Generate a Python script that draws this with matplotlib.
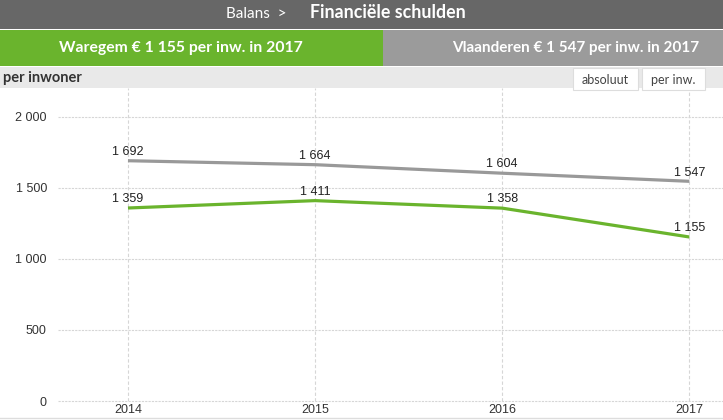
import matplotlib.pyplot as plt
from matplotlib.patches import Rectangle

years = [2014, 2015, 2016, 2017]
vlaanderen = [1692, 1664, 1604, 1547]
waregem = [1359, 1411, 1358, 1155]
yticks = [0, 500, 1000, 1500, 2000]
ytick_labels = ['0', '500', '1 000', '1 500', '2 000']

green = '#6ab42d'
grey = '#999999'

W, H = 723, 420
fig = plt.figure(figsize=(W / 100, H / 100), dpi=100)
plt.rcParams['font.family'] = ['Liberation Sans', 'DejaVu Sans']


def px(x0, y0, x1, y1):
    # pixel box -> figure fraction rect
    return (x0 / W, 1 - y1 / H, (x1 - x0) / W, (y1 - y0) / H)


# header bands
for (x0, y0, x1, y1), c in [((0, 0, 723, 29), '#676767'),
                            ((0, 30, 383, 66), green),
                            ((383, 30, 723, 66), '#9b9b9b'),
                            ((0, 67, 723, 88), '#e9e9e9')]:
    r = px(x0, y0, x1, y1)
    fig.add_artist(Rectangle((r[0], r[1]), r[2], r[3], transform=fig.transFigure,
                             color=c, lw=0))

hfont = ['Lato', 'DejaVu Sans']
fig.text(287 / W, 1 - 14 / H, 'Balans  >', ha='right', va='center', color='white',
         fontsize=11, family=hfont)
fig.text(310 / W, 1 - 13 / H, 'Financiële schulden', ha='left', va='center',
         color='white', fontsize=12.8, fontweight='bold', family=hfont)
fig.text(181 / W, 1 - 48 / H, 'Waregem € 1 155 per inw. in 2017', ha='center',
         va='center', color='white', fontsize=11.3, fontweight='bold', family=hfont)
fig.text(576 / W, 1 - 48 / H, 'Vlaanderen € 1 547 per inw. in 2017', ha='center',
         va='center', color='white', fontsize=11, fontweight='bold', family=hfont)
fig.text(3 / W, 1 - 78 / H, 'per inwoner', ha='left', va='center', color='#333333',
         fontsize=10.5, fontweight='bold', family=hfont)

# buttons
for (x0, x1), lab in [((573, 638), 'absoluut'), ((642, 705), 'per inw.')]:
    r = px(x0, 68, x1, 90)
    fig.add_artist(Rectangle((r[0], r[1]), r[2], r[3], transform=fig.transFigure,
                             facecolor='white', edgecolor='#dddddd', lw=0.8))
    fig.text((x0 + x1) / 2 / W, 1 - 80 / H, lab, ha='center', va='center',
             color='#444444', fontsize=9, family=hfont)

# bottom line
fig.add_artist(plt.Line2D([0, 1], [1 - 418 / H] * 2, transform=fig.transFigure,
                          color='#dddddd', lw=1))

# chart area
ax = fig.add_axes(px(58, 88, 723, 401))
ax.set_xlim(2013.626, 2017.18)
ax.set_ylim(0, 2204)
for s in ax.spines.values():
    s.set_visible(False)
ax.patch.set_alpha(0)

for y in yticks:
    ax.axhline(y, color='#d6d6d6', lw=0.8, ls=(0, (2, 1)), zorder=0, clip_on=False)
for x in years:
    ax.axvline(x, ymin=0, ymax=1, color='#d6d6d6', lw=0.8, ls=(0, (3, 2)), zorder=0)

ax.plot(years, vlaanderen, color=grey, lw=2.3, solid_capstyle='butt')
ax.plot(years, waregem, color=green, lw=2.3, solid_capstyle='butt')

for series in (vlaanderen, waregem):
    for x, v in zip(years, series):
        ax.annotate(f'{v:,}'.replace(',', ' '), (x, v), xytext=(0, 2),
                    textcoords='offset points', ha='center', va='bottom',
                    fontsize=9, color='#222222')

ax.set_yticks(yticks)
ax.set_yticklabels(ytick_labels)
ax.set_xticks(years)
ax.set_xticklabels([str(y) for y in years])
ax.tick_params(length=0, labelsize=9, colors='#333333')
ax.tick_params(axis='y', pad=8)
ax.tick_params(axis='x', pad=2)

fig.savefig('out.png', dpi=100)
